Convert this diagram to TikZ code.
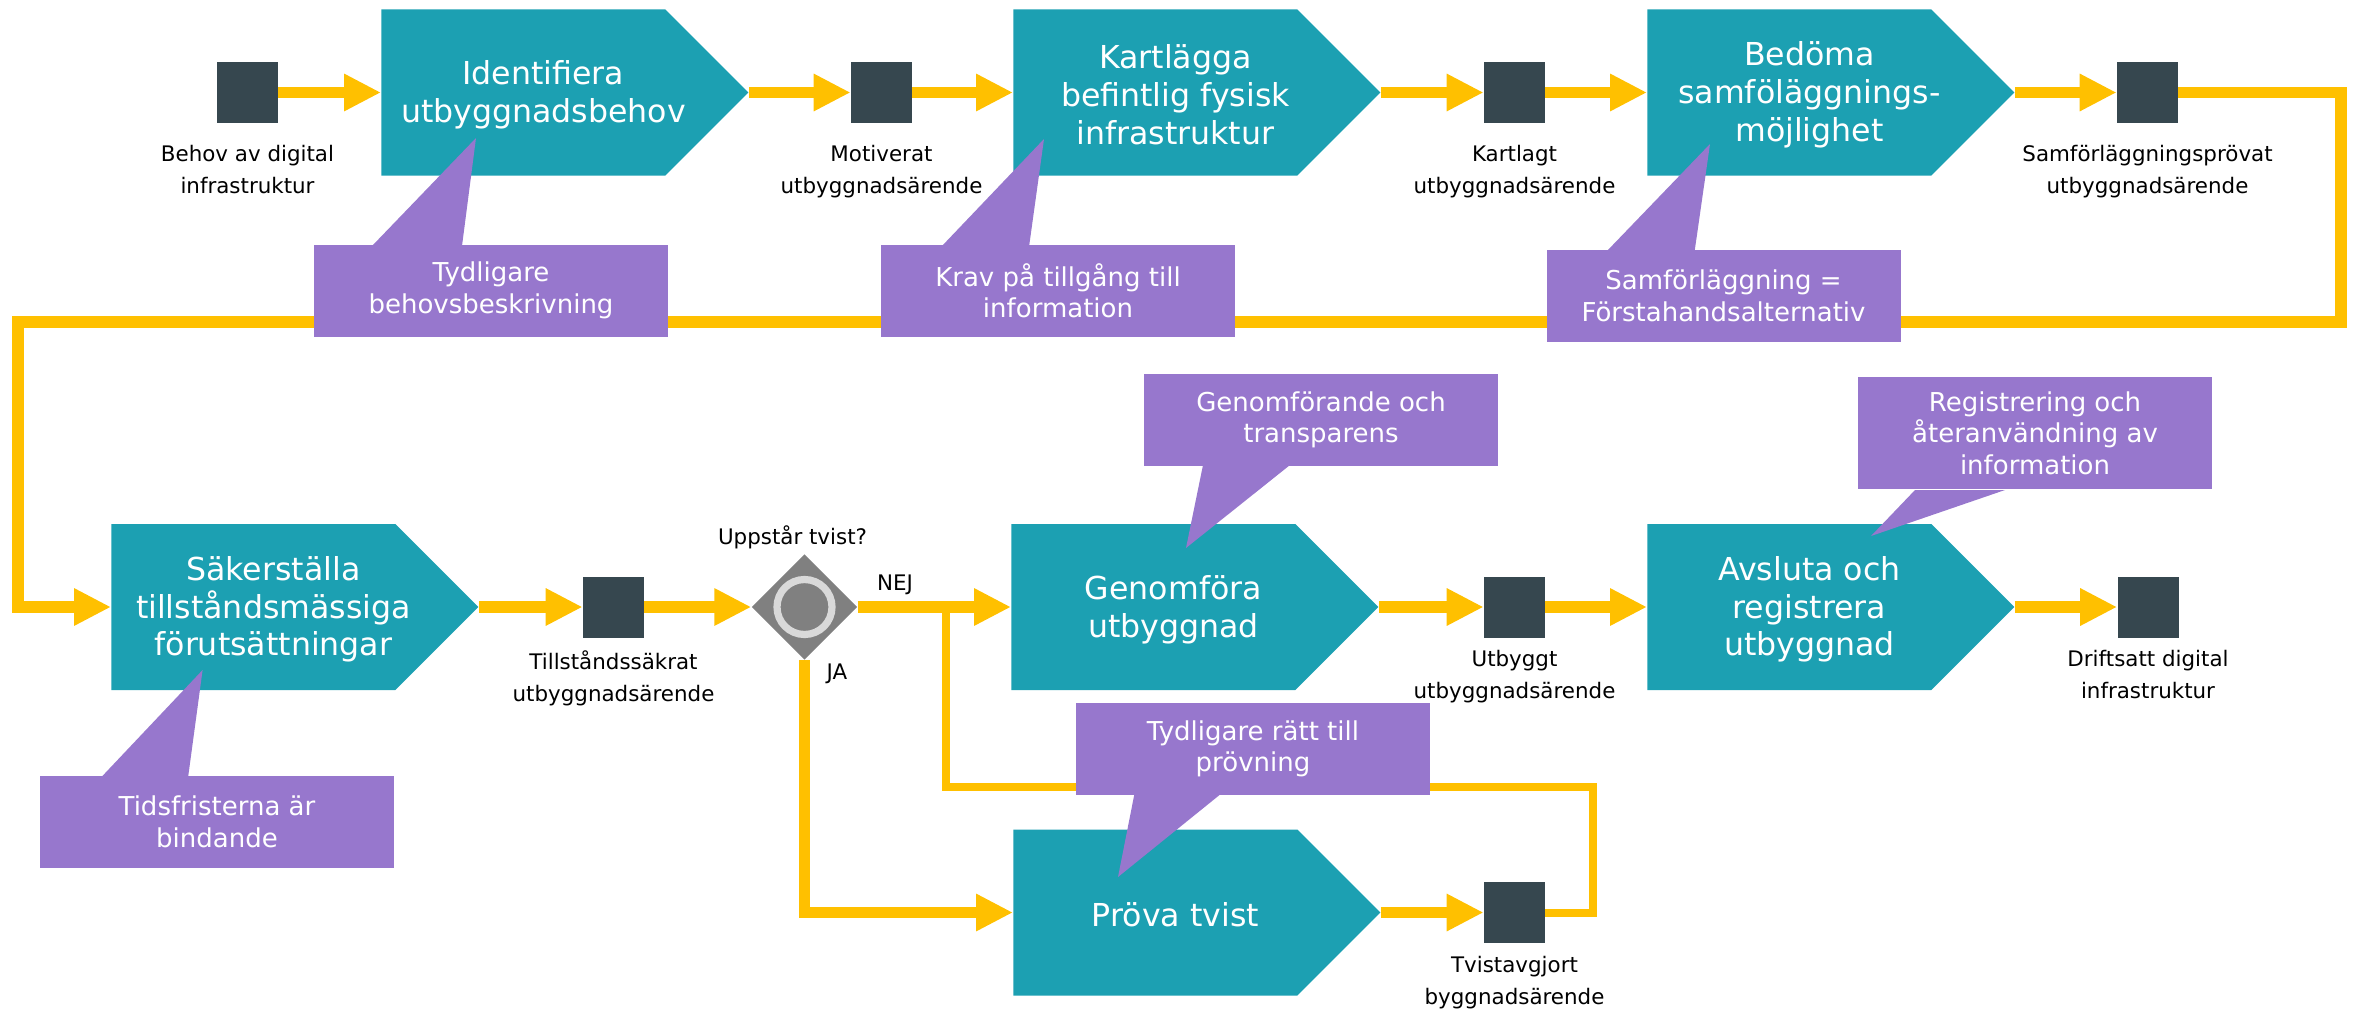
\documentclass[tikz,border=0pt]{standalone}
\usepackage{fontspec}
\setmainfont{DejaVu Sans}
\usetikzlibrary{arrows.meta, positioning, calc, shapes.symbols, shapes.geometric, backgrounds}
\definecolor{ProcTeal}{RGB}{28,160,178}
\definecolor{StateDark}{RGB}{54,71,79}
\definecolor{FlowYellow}{RGB}{255,192,0}
\definecolor{NotePurple}{RGB}{151,119,205}
\definecolor{GateGray}{RGB}{128,128,128}
\definecolor{RingGray}{RGB}{217,217,217}
\tikzset{
  procbox/.style={signal, signal to=east, signal pointer angle=90, fill=ProcTeal,
    minimum width=183.5pt, minimum height=83pt, inner sep=0pt, anchor=west},
  proctext/.style={text=white, font=\fontsize{15.8}{18.9}\selectfont, align=center,
    inner sep=0pt, xshift=10pt, yshift=-1.2pt},
  statebox/.style={rectangle, fill=StateDark, minimum size=30.5pt, inner sep=0pt},
  statelabel/.style={font=\fontsize{10.7}{16}\selectfont, align=center, inner sep=0pt},
  notebox/.style={rectangle, fill=NotePurple, text=white, font=\fontsize{13}{15.75}\selectfont,
    align=center, minimum width=177pt, minimum height=46pt, inner xsep=4pt, inner ysep=7pt},
  flow/.style={draw=FlowYellow, line width=5.75pt, -{Triangle[length=18.5pt, width=17.5pt]}},
  backline/.style={draw=FlowYellow, line width=4pt},
}
\begin{document}
\begin{tikzpicture}[x=0.5pt, y=-0.5pt]
\useasboundingbox (0,0) rectangle (2359,1011);
% upper row
\node[statebox] (behov) at (247.5,92.5) {};
\node[procbox, label={[proctext]center:Identifiera\\utbyggnadsbehov}] (identifiera) at (381,92.5) {};
\node[statebox] (motiverat) at (881.5,92.5) {};
\node[procbox, label={[proctext]center:Kartlägga\\befintlig fysisk\\infrastruktur}] (kartlagga) at (1013,92.5) {};
\node[statebox] (kartlagt) at (1514.5,92.5) {};
\node[procbox, label={[proctext]center:Bedöma\\samföläggnings-\\möjlighet}] (bedoma) at (1647,92.5) {};
\node[statebox] (samprovat) at (2147.5,92.5) {};
\node[statelabel, below=10.5pt of behov] (behov-l) {Behov av digital\\infrastruktur};
\node[statelabel, below=10.5pt of motiverat] (motiverat-l) {Motiverat\\utbyggnadsärende};
\node[statelabel, below=10.5pt of kartlagt] (kartlagt-l) {Kartlagt\\utbyggnadsärende};
\node[statelabel, below=10.5pt of samprovat] (samprovat-l) {Samförläggningsprövat\\utbyggnadsärende};
% lower rows
\node[procbox, label={[proctext]center:Säkerställa\\tillståndsmässiga\\förutsättningar}] (sakerstalla) at (111,607) {};
\node[statebox] (tillstand) at (613.5,607) {};
\node[diamond, fill=GateGray, minimum size=52.8pt, inner sep=0pt] (tvist) at (804.5,607) {};
\draw[RingGray, line width=3.6pt] (tvist.center) circle (13.75pt);
\node[procbox, label={[proctext]center:Genomföra\\utbyggnad}] (genomfora) at (1011,607) {};
\node[statebox] (utbyggt) at (1514.5,607) {};
\node[procbox, label={[proctext]center:Avsluta och\\registrera\\utbyggnad}] (avsluta) at (1647,607) {};
\node[statebox] (driftsatt) at (2148,607) {};
\node[procbox, label={[proctext]center:Pröva tvist}] (prova) at (1013,912.5) {};
\node[statebox] (avgjort) at (1514.5,912.5) {};
\node[statelabel, below=6pt of tillstand] (tillstand-l) {Tillståndssäkrat\\utbyggnadsärende};
\node[statelabel, below=6pt of utbyggt] (utbyggt-l) {Utbyggt\\utbyggnadsärende};
\node[statelabel, below=6pt of driftsatt] (driftsatt-l) {Driftsatt digital\\infrastruktur};
\node[statelabel, below=6pt of avgjort] (avgjort-l) {Tvistavgjort\\byggnadsärende};
\node[statelabel, above=2pt of tvist, xshift=-6pt] (tvist-l) {Uppstår tvist?};
\node[statelabel] (nej) at (895,585) {NEJ};
\node[statelabel] (ja) at (837,674) {JA};
% flows
\coordinate (nej-join) at (946,607);
\begin{scope}[on background layer]
\draw[flow] (behov.east) -- (identifiera.west);
\draw[flow] (identifiera.east) -- (motiverat.west);
\draw[flow] (motiverat.east) -- (kartlagga.west);
\draw[flow] (kartlagga.east) -- (kartlagt.west);
\draw[flow] (kartlagt.east) -- (bedoma.west);
\draw[flow] (bedoma.east) -- (samprovat.west);
\draw[flow] (samprovat.east) -| (2341,322) -| (18,607) -- (sakerstalla.west);
\draw[flow] (sakerstalla.east) -- (tillstand.west);
\draw[flow] (tillstand.east) -- (tvist.west);
\draw[flow] (tvist.east) -- (genomfora.west);
\draw[flow] (tvist.south) |- (prova.west);
\draw[flow] (genomfora.east) -- (utbyggt.west);
\draw[flow] (utbyggt.east) -- (avsluta.west);
\draw[flow] (avsluta.east) -- (driftsatt.west);
\draw[flow] (prova.east) -- (avgjort.west);
\draw[backline] (avgjort.east) -| (1593,787) -| (nej-join);
\end{scope}
% notes
\node[notebox] (n-behov) at (491,290.5) {Tydligare\\behovsbeskrivning};
\fill[NotePurple] (372,246) -- (476,138) -- (462,246) -- cycle;
\node[notebox] (n-krav) at (1058,291) {Krav på tillgång till\\information};
\fill[NotePurple] (941,247) -- (1044,139) -- (1029,247) -- cycle;
\node[notebox] (n-samf) at (1723.5,296) {Samförläggning =\\Förstahandsalternativ};
\fill[NotePurple] (1606,252) -- (1710,144) -- (1694.5,252) -- cycle;
\node[notebox] (n-tid) at (217,822) {Tidsfristerna är\\bindande};
\fill[NotePurple] (100.5,778) -- (202.6,670) -- (188,778) -- cycle;
\node[notebox] (n-ratt) at (1253,749) {Tydligare rätt till\\prövning};
\fill[NotePurple] (1134.6,793) -- (1118,877) -- (1222,793) -- cycle;
\node[notebox] (n-genom) at (1321,420) {Genomförande och\\transparens};
\fill[NotePurple] (1203,465) -- (1186,548) -- (1290,465) -- cycle;
\node[notebox] (n-reg) at (2035,433) {Registrering och\\återanvändning av\\information};
\fill[NotePurple] (1915,490) -- (1871,536) -- (2005,490) -- cycle;
\end{tikzpicture}
\end{document}
